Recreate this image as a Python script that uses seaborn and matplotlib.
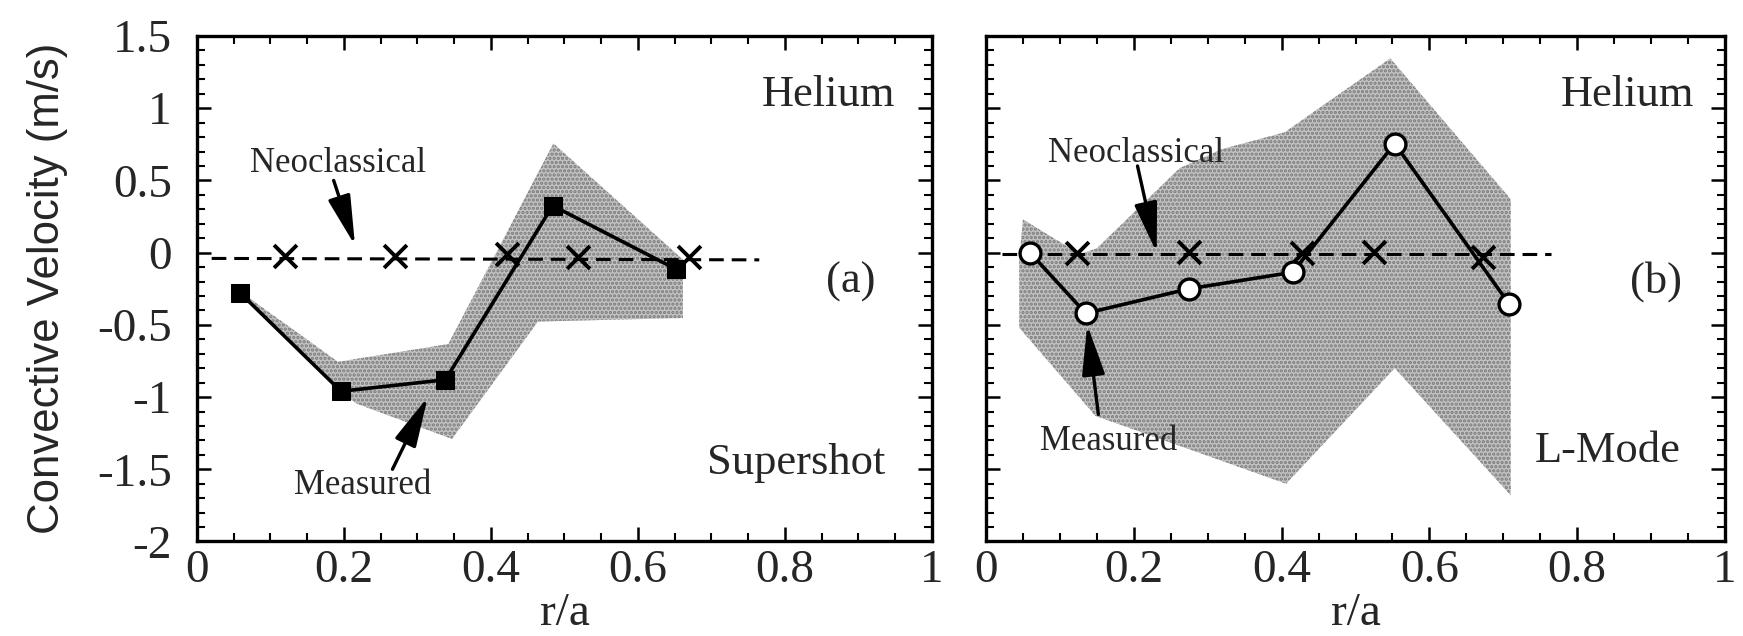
import matplotlib
matplotlib.use("Agg")
import matplotlib.pyplot as plt
from matplotlib.ticker import MultipleLocator, FuncFormatter, FixedLocator
import seaborn as sns

# ---------------- data ----------------
# Panel (a): Supershot
r_a_meas = [0.059, 0.196, 0.338, 0.484, 0.652]
v_a_meas = [-0.28, -0.96, -0.88, 0.325, -0.115]
r_a_neo = [0.12, 0.27, 0.422, 0.519, 0.67]
v_a_neo = [-0.02, -0.02, -0.012, -0.03, -0.03]
r_a_neo_line = [0.02, 0.765]
v_a_neo_line = [-0.04, -0.05]
r_a_band = [0.059, 0.192, 0.342, 0.485, 0.661, 0.661, 0.464, 0.347, 0.218, 0.196]
v_a_band = [-0.27, -0.756, -0.633, 0.756, -0.047, -0.453, -0.477, -1.29, -1.047, -0.97]

# Panel (b): L-Mode
r_b_meas = [0.060, 0.135, 0.275, 0.415, 0.553, 0.708]
v_b_meas = [-0.003, -0.42, -0.25, -0.136, 0.755, -0.357]
r_b_neo = [0.123, 0.275, 0.428, 0.525, 0.672]
v_b_neo = [0.0, 0.005, 0.0, 0.005, -0.03]
r_b_neo_line = [0.022, 0.765]
v_b_neo_line = [-0.01, -0.01]
r_b_band = [0.05, 0.127, 0.15, 0.262, 0.319, 0.404, 0.547, 0.710, 0.710, 0.553, 0.406, 0.148, 0.045, 0.045]
v_b_band = [0.23, -0.01, 0.03, 0.585, 0.716, 0.833, 1.345, 0.37, -1.68, -0.80, -1.60, -1.13, -0.52, -0.05]

x_ticks = [0, 0.2, 0.4, 0.6, 0.8, 1.0]
y_ticks = [-2, -1.5, -1, -0.5, 0, 0.5, 1, 1.5]
x_label = "r/a"
y_label = "Convective Velocity (m/s)"

# ---------------- style ----------------
sns.set_theme(style="white")
plt.rcParams["font.family"] = ["Liberation Serif", "DejaVu Serif"]
plt.rcParams["axes.unicode_minus"] = False
plt.rcParams["hatch.linewidth"] = 1.6

SERIF = ["Liberation Serif", "DejaVu Serif"]
SANS = ["Liberation Sans", "DejaVu Sans"]

fig = plt.figure(figsize=(17.43, 6.36), dpi=100)
ax_a = fig.add_axes([0.113, 0.1486, 0.4217, 0.7948])
ax_b = fig.add_axes([0.5657, 0.1486, 0.424, 0.7948])

fmt = FuncFormatter(lambda v, p: "%g" % v)


def style_axes(ax, show_y):
    ax.set_xlim(0, 1)
    ax.set_ylim(-2, 1.5)
    ax.xaxis.set_major_locator(FixedLocator(x_ticks))
    ax.yaxis.set_major_locator(FixedLocator(y_ticks))
    ax.xaxis.set_minor_locator(MultipleLocator(0.05))
    ax.yaxis.set_minor_locator(MultipleLocator(0.1))
    ax.xaxis.set_major_formatter(fmt)
    ax.yaxis.set_major_formatter(fmt)
    ax.tick_params(which="both", direction="in", top=True, right=True,
                   bottom=True, left=True, color="black")
    ax.tick_params(which="major", length=10, width=1.8)
    ax.tick_params(which="minor", length=5.5, width=1.5)
    ax.tick_params(axis="x", which="major", pad=6, labelsize=34)
    ax.tick_params(axis="y", which="major", pad=18, labelsize=34)
    for lab in ax.get_xticklabels() + ax.get_yticklabels():
        lab.set_fontfamily(SERIF)
    for s in ax.spines.values():
        s.set_linewidth(2.4)
        s.set_color("black")
    ax.set_xlabel(x_label, fontsize=34, family=SERIF, labelpad=0)
    if show_y:
        ax.set_ylabel(y_label, fontsize=31.5, family=SANS, labelpad=21)
    else:
        ax.set_ylabel("")
        ax.tick_params(axis="y", labelleft=False)


def draw_panel(ax, band_r, band_v, line_r, line_v, neo_r, neo_v, meas_r, meas_v, filled):
    ax.fill(band_r, band_v, facecolor="#c2c2c2", edgecolor="#7a7a7a",
            hatch="....", lw=0, zorder=1)
    sns.lineplot(x=line_r, y=line_v, ax=ax, color="black", lw=2.2,
                 linestyle=(0, (4.8, 2.6)), sort=False, estimator=None, zorder=2)
    sns.scatterplot(x=neo_r, y=neo_v, ax=ax, marker="x", s=270, linewidth=2.8,
                    color="black", zorder=3)
    if filled:
        sns.lineplot(x=meas_r, y=meas_v, ax=ax, color="black", lw=2.6, sort=False,
                     estimator=None, marker="s", markersize=12.5,
                     markerfacecolor="black", markeredgecolor="black", zorder=4)
    else:
        sns.lineplot(x=meas_r, y=meas_v, ax=ax, color="black", lw=2.6, sort=False,
                     estimator=None, marker="o", markersize=15,
                     markerfacecolor="white", markeredgecolor="black",
                     markeredgewidth=2.4, zorder=4)


draw_panel(ax_a, r_a_band, v_a_band, r_a_neo_line, v_a_neo_line,
           r_a_neo, v_a_neo, r_a_meas, v_a_meas, True)
draw_panel(ax_b, r_b_band, v_b_band, r_b_neo_line, v_b_neo_line,
           r_b_neo, v_b_neo, r_b_meas, v_b_meas, False)

style_axes(ax_a, True)
style_axes(ax_b, False)

arrow = dict(arrowstyle="-|>,head_length=1.4,head_width=0.32", color="black",
             lw=2.4, mutation_scale=22, shrinkA=0, shrinkB=0)

# Panel (a) annotations
ax_a.text(0.95, 1.017, "Helium", ha="right", va="baseline", fontsize=32, family=SERIF)
ax_a.text(0.89, -0.2, "(a)", ha="center", va="center", fontsize=32, family=SERIF)
ax_a.text(0.936, -1.536, "Supershot", ha="right", va="baseline", fontsize=32, family=SERIF)
ax_a.text(0.192, 0.555, "Neoclassical", ha="center", va="baseline", fontsize=25, family=SERIF)
ax_a.annotate("", xy=(0.215, 0.05), xytext=(0.186, 0.50), arrowprops=arrow)
ax_a.text(0.226, -1.67, "Measured", ha="center", va="baseline", fontsize=25, family=SERIF)
ax_a.annotate("", xy=(0.314, -1.0), xytext=(0.266, -1.50), arrowprops=arrow)

# Panel (b) annotations
ax_b.text(0.958, 1.017, "Helium", ha="right", va="baseline", fontsize=32, family=SERIF)
ax_b.text(0.907, -0.2, "(b)", ha="center", va="center", fontsize=32, family=SERIF)
ax_b.text(0.94, -1.45, "L-Mode", ha="right", va="baseline", fontsize=32, family=SERIF)
ax_b.text(0.203, 0.625, "Neoclassical", ha="center", va="baseline", fontsize=25, family=SERIF)
ax_b.annotate("", xy=(0.231, 0.0), xytext=(0.205, 0.60), arrowprops=arrow)
ax_b.text(0.166, -1.365, "Measured", ha="center", va="baseline", fontsize=25, family=SERIF)
ax_b.annotate("", xy=(0.137, -0.50), xytext=(0.152, -1.12), arrowprops=arrow)

fig.savefig("out.png", dpi=100)
